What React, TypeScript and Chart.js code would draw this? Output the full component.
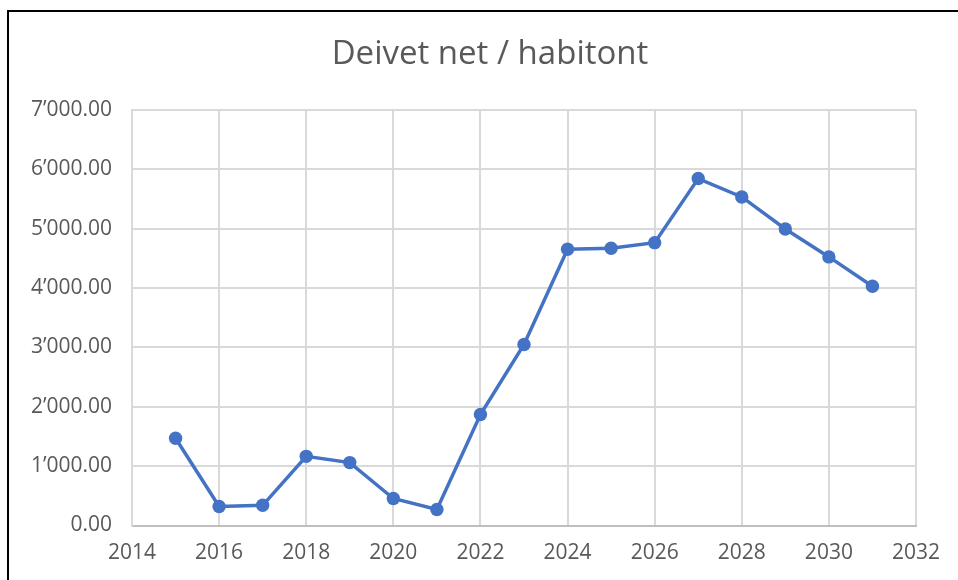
import React, { useEffect, useRef } from "react";
import { Chart, registerables } from "chart.js";

Chart.register(...registerables);

const years = [2015, 2016, 2017, 2018, 2019, 2020, 2021, 2022, 2023, 2024, 2025, 2026, 2027, 2028, 2029, 2030, 2031];
const values = [1470, 320, 340, 1165, 1060, 455, 270, 1870, 3050, 4655, 4670, 4765, 5845, 5535, 4995, 4525, 4030];
const titleText = "Deivet net / habitont";
const xMin = 2014;
const xMax = 2032;
const xStep = 2;
const yMin = 0;
const yMax = 7000;
const yStep = 1000;

const fontFamily = "'Open Sans', 'Liberation Sans', sans-serif";
const textColor = "#595959";

function formatY(v: number): string {
  const fixed = Math.abs(v).toFixed(2);
  const [intPart, dec] = fixed.split(".");
  const withSep = intPart.replace(/\B(?=(\d{3})+(?!\d))/g, "\u2019");
  return (v < 0 ? "-" : "") + withSep + "." + dec;
}

const titlePlugin = {
  id: "boxTitle",
  afterDraw(chart: any) {
    const ctx = chart.ctx;
    ctx.save();
    ctx.fillStyle = textColor;
    ctx.font = `normal 33px ${fontFamily}`;
    ctx.textAlign = "center";
    ctx.textBaseline = "middle";
    const cx = (chart.width + 22) / 2;
    ctx.fillText(titleText, cx, 55);
    ctx.restore();
  },
};

export default function App() {
  const canvasRef = useRef<HTMLCanvasElement | null>(null);

  useEffect(() => {
    const canvas = canvasRef.current;
    if (!canvas) return;
    const chart = new Chart(canvas, {
      type: "line",
      data: {
        datasets: [
          {
            label: titleText,
            data: years.map((y, i) => ({ x: y, y: values[i] })),
            borderColor: "#4472C4",
            backgroundColor: "#4472C4",
            borderWidth: 3.5,
            pointRadius: 6.7,
            pointHoverRadius: 6.7,
            pointBorderWidth: 0,
            pointBackgroundColor: "#4472C4",
            tension: 0,
          },
        ],
      },
      options: {
        animation: false,
        responsive: false,
        maintainAspectRatio: false,
        layout: { padding: { left: 0, right: 42, top: 110, bottom: 0 } },
        plugins: {
          legend: { display: false },
          tooltip: { enabled: false },
          title: { display: false },
        },
        scales: {
          x: {
            type: "linear",
            min: xMin,
            max: xMax,
            afterFit: (s: any) => {
              s.height = 54.5;
            },
            ticks: {
              stepSize: xStep,
              color: textColor,
              font: { family: fontFamily, size: 21 },
              padding: 15,
              callback: (v: any) => String(v),
            },
            grid: { color: "#d9d9d9", lineWidth: 2, drawTicks: false },
            border: { color: "#bfbfbf", width: 2 },
          },
          y: {
            min: yMin,
            max: yMax,
            afterFit: (s: any) => {
              s.width = 132;
            },
            ticks: {
              stepSize: yStep,
              color: textColor,
              font: { family: fontFamily, size: 21 },
              padding: 20,
              callback: (v: any) => formatY(Number(v)),
            },
            grid: { color: "#d9d9d9", lineWidth: 2, drawTicks: false },
            border: { color: "#d9d9d9", width: 2 },
          },
        },
      },
      plugins: [titlePlugin],
    });
    return () => chart.destroy();
  }, []);

  return (
    <div style={{ position: "fixed", left: 0, top: 0, width: 958, height: 580, background: "#fff", overflow: "hidden" }}>
      <canvas ref={canvasRef} width={958} height={580} style={{ position: "absolute", left: 0, top: 0, width: 958, height: 580 }} />
      <div
        style={{
          position: "absolute",
          left: 7,
          top: 10,
          width: 980,
          height: 600,
          borderTop: "2.5px solid #000",
          borderLeft: "2.5px solid #000",
          pointerEvents: "none",
        }}
      />
    </div>
  );
}
